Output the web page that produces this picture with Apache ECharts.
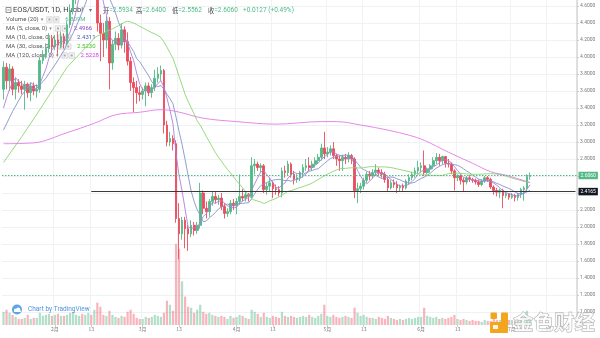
<!DOCTYPE html>
<html>
<head>
<meta charset="utf-8">
<script src="https://cdn.jsdelivr.net/npm/echarts@6/dist/echarts.min.js"></script>
<style>
  html, body { margin: 0; padding: 0; background: #ffffff; }
  #chart { width: 600px; height: 338px; }
</style>
</head>
<body>
<div id="chart"></div>
<script>
// EOS/USDT daily candles, Huobi, 2020-01-15 .. 2020-07-07
// each row: [open, close, low, high]
const candlesJan = [
  [3.62, 3.88, 3.50, 3.95], [3.88, 3.72, 3.62, 3.93], [3.72, 3.86, 3.60, 3.92], [3.86, 3.62, 3.55, 3.89],
  [3.62, 3.70, 3.50, 3.76], [3.70, 3.66, 3.58, 3.74], [3.66, 3.62, 3.56, 3.72], [3.62, 3.68, 3.38, 3.72],
  [3.68, 3.58, 3.52, 3.70], [3.58, 3.66, 3.48, 3.70], [3.66, 3.60, 3.55, 3.70], [3.60, 3.62, 3.52, 3.68],
  [3.62, 3.96, 3.58, 4.00], [3.96, 4.02, 3.92, 4.08], [4.02, 4.10, 3.98, 4.16], [4.10, 4.22, 4.05, 4.28],
  [4.22, 4.12, 4.05, 4.26]
];
const candlesFeb = [
  [4.12, 4.20, 4.08, 4.26], [4.20, 4.14, 4.02, 4.30], [4.14, 4.24, 4.10, 4.30], [4.24, 4.16, 4.10, 4.28],
  [4.16, 4.38, 4.14, 4.42], [4.38, 4.55, 4.34, 4.62], [4.55, 4.70, 4.50, 4.76], [4.70, 4.88, 4.62, 4.95],
  [4.88, 5.05, 4.80, 5.12], [5.05, 4.98, 4.82, 5.15], [4.98, 5.12, 4.90, 5.20], [5.12, 5.25, 5.05, 5.38],
  [5.25, 5.15, 4.95, 5.40], [5.15, 5.20, 5.02, 5.30], [5.20, 4.40, 4.30, 5.25], [4.40, 4.28, 3.95, 4.50],
  [4.28, 4.20, 4.00, 4.40], [4.20, 4.42, 4.10, 4.48], [4.42, 3.93, 3.62, 4.47], [3.93, 4.15, 3.85, 4.20],
  [4.15, 4.22, 4.08, 4.30], [4.22, 4.14, 4.08, 4.28], [4.14, 4.32, 4.10, 4.40], [4.32, 4.18, 4.05, 4.36],
  [4.18, 3.95, 3.90, 4.29], [3.95, 3.70, 3.60, 4.00], [3.70, 3.64, 3.35, 3.76], [3.64, 3.58, 3.45, 3.72],
  [3.58, 3.56, 3.48, 3.66]
];
const candlesMar = [
  [3.56, 3.60, 3.50, 3.64], [3.60, 3.66, 3.42, 3.70], [3.66, 3.58, 3.54, 3.70], [3.58, 3.64, 3.52, 3.68],
  [3.64, 3.75, 3.60, 3.85], [3.75, 3.80, 3.70, 3.88], [3.80, 3.84, 3.72, 3.90], [3.84, 3.20, 3.10, 3.86],
  [3.20, 3.00, 2.95, 3.25], [3.00, 3.04, 2.95, 3.12], [3.04, 2.98, 2.90, 3.08], [2.98, 2.10, 2.05, 3.02],
  [2.10, 1.92, 1.62, 2.28], [1.92, 2.08, 1.85, 2.12], [2.08, 1.98, 1.75, 2.12], [1.98, 1.92, 1.72, 2.02],
  [1.92, 2.02, 1.88, 2.08], [2.02, 1.96, 1.90, 2.06], [1.96, 2.02, 1.92, 2.06], [2.02, 2.40, 1.98, 2.52],
  [2.40, 2.22, 2.15, 2.43], [2.22, 2.18, 2.10, 2.30], [2.18, 2.30, 2.12, 2.33], [2.30, 2.36, 2.25, 2.42],
  [2.36, 2.32, 2.28, 2.42], [2.32, 2.34, 2.26, 2.38], [2.34, 2.24, 2.20, 2.40], [2.24, 2.16, 2.10, 2.28],
  [2.16, 2.18, 2.12, 2.22], [2.18, 2.28, 2.15, 2.32], [2.28, 2.25, 2.20, 2.33]
];
const candlesApr = [
  [2.25, 2.30, 2.15, 2.34], [2.30, 2.36, 2.26, 2.62], [2.36, 2.34, 2.30, 2.45], [2.34, 2.38, 2.30, 2.42],
  [2.38, 2.36, 2.30, 2.40], [2.36, 2.72, 2.34, 2.82], [2.72, 2.74, 2.62, 2.80], [2.74, 2.70, 2.66, 2.77],
  [2.70, 2.72, 2.64, 2.75], [2.72, 2.44, 2.40, 2.74], [2.44, 2.48, 2.38, 2.52], [2.48, 2.52, 2.42, 2.58],
  [2.52, 2.45, 2.34, 2.54], [2.45, 2.44, 2.38, 2.50], [2.44, 2.40, 2.36, 2.48], [2.40, 2.66, 2.35, 2.70],
  [2.66, 2.64, 2.58, 2.72], [2.64, 2.74, 2.60, 2.78], [2.74, 2.62, 2.58, 2.76], [2.62, 2.56, 2.50, 2.66],
  [2.56, 2.58, 2.52, 2.62], [2.58, 2.64, 2.54, 2.66], [2.64, 2.70, 2.58, 2.74], [2.70, 2.72, 2.66, 2.80],
  [2.72, 2.70, 2.66, 2.82], [2.70, 2.74, 2.66, 2.78], [2.74, 2.78, 2.70, 2.82], [2.78, 2.82, 2.74, 2.86],
  [2.82, 2.93, 2.78, 2.98], [2.93, 2.86, 2.80, 3.12]
];
const candlesMay = [
  [2.86, 2.88, 2.82, 2.94], [2.88, 2.92, 2.84, 2.96], [2.92, 2.84, 2.80, 3.00], [2.84, 2.80, 2.72, 2.86],
  [2.80, 2.78, 2.66, 2.84], [2.78, 2.82, 2.66, 2.85], [2.82, 2.80, 2.74, 2.86], [2.80, 2.84, 2.76, 2.88],
  [2.84, 2.80, 2.74, 2.86], [2.80, 2.43, 2.34, 2.82], [2.43, 2.45, 2.28, 2.52], [2.45, 2.48, 2.40, 2.52],
  [2.48, 2.55, 2.44, 2.58], [2.55, 2.62, 2.52, 2.65], [2.62, 2.60, 2.55, 2.66], [2.60, 2.64, 2.57, 2.68],
  [2.64, 2.67, 2.60, 2.74], [2.67, 2.64, 2.60, 2.70], [2.64, 2.62, 2.58, 2.68], [2.62, 2.56, 2.52, 2.65],
  [2.56, 2.46, 2.42, 2.58], [2.46, 2.52, 2.44, 2.55], [2.52, 2.50, 2.46, 2.56], [2.50, 2.46, 2.40, 2.54],
  [2.46, 2.48, 2.42, 2.50], [2.48, 2.46, 2.42, 2.51], [2.46, 2.54, 2.44, 2.56], [2.54, 2.58, 2.50, 2.62],
  [2.58, 2.62, 2.55, 2.65], [2.62, 2.66, 2.58, 2.70], [2.66, 2.70, 2.62, 2.78]
];
const candlesJun = [
  [2.70, 2.72, 2.64, 2.76], [2.72, 2.64, 2.60, 2.90], [2.64, 2.68, 2.62, 2.70], [2.68, 2.72, 2.64, 2.74],
  [2.72, 2.78, 2.68, 2.82], [2.78, 2.82, 2.74, 2.87], [2.82, 2.78, 2.72, 2.86], [2.78, 2.8284, 2.74, 2.84],
  [2.8284, 2.75, 2.70, 2.83], [2.75, 2.74, 2.70, 2.80], [2.74, 2.66, 2.62, 2.76], [2.66, 2.58, 2.43, 2.68],
  [2.58, 2.60, 2.54, 2.62], [2.60, 2.55, 2.50, 2.62], [2.55, 2.53, 2.42, 2.58], [2.53, 2.58, 2.50, 2.60],
  [2.58, 2.56, 2.53, 2.61], [2.56, 2.55, 2.52, 2.58], [2.55, 2.53, 2.50, 2.57], [2.53, 2.50, 2.47, 2.56],
  [2.50, 2.54, 2.48, 2.56], [2.54, 2.58, 2.52, 2.60], [2.58, 2.56, 2.53, 2.60], [2.56, 2.47, 2.45, 2.58],
  [2.47, 2.43, 2.38, 2.49], [2.43, 2.41, 2.36, 2.46], [2.41, 2.43, 2.34, 2.45], [2.43, 2.37, 2.22, 2.45],
  [2.37, 2.39, 2.34, 2.41], [2.39, 2.35, 2.32, 2.40]
];
const candlesJul = [
  [2.35, 2.37, 2.33, 2.40], [2.37, 2.3481, 2.30, 2.39], [2.3481, 2.3835, 2.31, 2.40], [2.3835, 2.44, 2.34, 2.46],
  [2.44, 2.46, 2.31, 2.48], [2.46, 2.5933, 2.42, 2.62], [2.5934, 2.6060, 2.5562, 2.6400]
];

// daily volume, millions
const volumeJan = [13, 15, 12, 10, 8, 6, 6, 7, 10, 6, 7, 7, 12, 9, 10, 11, 9];
const volumeFeb = [10, 11, 9, 9, 10, 12, 13, 10, 9, 11, 10, 12, 10, 15, 22, 18, 10, 9, 14, 10, 8, 7, 9, 8, 13, 15, 11, 7, 6];
const volumeMar = [6, 8, 7, 8, 10, 9, 8, 12, 24, 20, 14, 80, 75, 43, 28, 18, 17, 12, 15, 20, 13, 11, 12, 10, 9, 8, 9, 8, 6, 9, 7];
const volumeApr = [8, 10, 9, 7, 6, 15, 13, 11, 8, 12, 8, 7, 9, 8, 7, 13, 9, 8, 9, 8, 7, 8, 9, 8, 10, 8, 7, 9, 11, 20];
const volumeMay = [9, 8, 10, 8, 7, 8, 9, 8, 7, 17, 12, 9, 10, 8, 7, 7, 6, 8, 7, 6, 9, 7, 6, 5, 6, 5, 6, 7, 6, 7, 8];
const volumeJun = [8, 17, 9, 8, 7, 8, 6, 7, 6, 7, 8, 10, 6, 5, 6, 5, 4, 5, 4, 4, 3, 5, 4, 4, 6, 5, 5, 4, 7, 5];
const volumeJul = [5, 4, 4, 5, 6, 14, 6.809];

// early moving-average values before a full window of closes exists: [dayIndex, value]
const ma5Head = [[0, 3.40], [1, 3.52], [2, 3.62], [3, 3.70]];
const ma10Head = [[0, 3.14], [3, 3.36], [6, 3.55], [8, 3.64]];
const ma30Head = [[0, 2.76], [6, 3.06], [12, 3.38], [21, 3.88]];
// 120-day average: [dayIndex, value]
const ma120Points = [
  [0, 2.98], [10, 2.99], [21, 3.11], [30, 3.22], [37, 3.32], [45, 3.35], [52, 3.38], [57, 3.36],
  [66, 3.28], [77, 3.24], [90, 3.21], [105, 3.24], [110, 3.24], [118, 3.20], [127, 3.14], [134, 3.08],
  [139, 3.02], [147, 2.88], [155, 2.75], [161, 2.65], [166, 2.61], [174, 2.5228]
];

// horizontal ray drawn on the chart
const rayLevel = 2.4165;
const rayStartDate = '2020-02-13';

// price axis ticks
const priceMin = 1.0, priceMax = 4.6, priceStep = 0.2;

const candles = [].concat(candlesJan, candlesFeb, candlesMar, candlesApr, candlesMay, candlesJun, candlesJul);
const volumes = [].concat(volumeJan, volumeFeb, volumeMar, volumeApr, volumeMay, volumeJun, volumeJul);

// date categories: 2020-01-15 through 2020-07-22 (right margin of empty days)
const categories = [];
for (let i = 0; i < 190; i++) {
  categories.push(new Date(Date.UTC(2020, 0, 15) + i * 86400000).toISOString().slice(0, 10));
}

const UP = '#53b987', DOWN = '#eb4d5c';
const FONT = 'Roboto, "Noto Sans CJK SC", "DejaVu Sans", sans-serif';
const CJK = '"Noto Sans CJK SC", Roboto, sans-serif';

function movingAverage(n, head) {
  const out = head.slice();
  for (let i = n - 1; i < candles.length; i++) {
    let s = 0;
    for (let k = i - n + 1; k <= i; k++) s += candles[k][1];
    out.push([i, s / n]);
  }
  return out;
}
const ma5 = movingAverage(5, ma5Head);
const ma10 = movingAverage(10, ma10Head);
const ma30 = movingAverage(30, ma30Head);

const last = candles[candles.length - 1];
const prevClose = candles[candles.length - 2][1];
const change = last[1] - prevClose;

const volumeData = volumes.map((v, i) => ({
  value: v,
  itemStyle: { color: candles[i][1] >= candles[i][0] ? 'rgba(83,185,135,0.45)' : 'rgba(235,77,92,0.42)' }
}));

const isMarkDay = (v) => { const d = +String(v).slice(8, 10); return d === 1 || d === 13; };
const markInterval = (i, v) => isMarkDay(v);

// text measuring for the legend block
const mctx = document.createElement('canvas').getContext('2d');
function tw(str, size, family) { mctx.font = size + 'px ' + family; return mctx.measureText(str).width; }

const graphics = [];
function txt(x, y, text, size, fill, family, extra) {
  graphics.push(Object.assign({
    type: 'text', x: x, y: y, z: 1, silent: true,
    style: { text: text, fontSize: size, fontFamily: family || FONT, fill: fill, align: 'left', verticalAlign: 'middle' }
  }, extra || {}));
}

// title row
graphics.push({ type: 'rect', z: 1, silent: true, shape: { x: 6, y: 7.5, width: 5, height: 5 }, style: { fill: 'none', stroke: '#666', lineWidth: 0.7 } });
graphics.push({ type: 'line', z: 1, silent: true, shape: { x1: 7.3, y1: 10, x2: 9.7, y2: 10 }, style: { stroke: '#666', lineWidth: 0.7 } });
txt(13, 10.5, 'EOS/USDT, 1D, Huobi', 7.5, '#3a3a3a');
txt(89, 10.5, '▾', 6, '#777');
const ohlcItems = [
  [103, '开', '=' + last[0].toFixed(4)],
  [136, '高', '=' + last[3].toFixed(4)],
  [172, '低', '=' + last[2].toFixed(4)],
  [208, '收', '=' + last[1].toFixed(4)]
];
ohlcItems.forEach(([x, lab, val]) => {
  txt(x, 10.5, lab, 6.3, '#444', CJK);
  txt(x + 6.3, 10.5, val, 6.5, UP);
});
txt(243, 10.5, (change >= 0 ? '+' : '') + change.toFixed(4) + ' (' + (change >= 0 ? '+' : '') + (change / prevClose * 100).toFixed(2) + '%)', 6.5, UP);

// indicator legend rows
const legendRows = [
  { label: 'Volume (20)', value: volumes[volumes.length - 1].toFixed(3) + 'M', color: UP },
  { label: 'MA (5, close, 0)', value: ma5[ma5.length - 1][1].toFixed(4), color: '#8e44c0' },
  { label: 'MA (10, close, 0)', value: ma10[ma10.length - 1][1].toFixed(4), color: '#4a5bb0' },
  { label: 'MA (30, close, 0)', value: ma30[ma30.length - 1][1].toFixed(4), color: '#44c427' },
  { label: 'MA (120, close, 0)', value: ma120Points[ma120Points.length - 1][1].toFixed(4), color: '#e03ee8' }
];
legendRows.forEach((r, i) => {
  const y = 19.5 + i * 9;
  const w = tw(r.label, 6, FONT);
  txt(6, y, r.label, 6, '#555');
  const cx = 6 + w + 2;
  txt(cx, y, '▾', 5, '#888');
  const bx = cx + 6;
  [0, 7].forEach((o) => {
    graphics.push({ type: 'rect', z: 1, silent: true, shape: { x: bx + o, y: y - 2.7, width: 5.4, height: 5.4 }, style: { fill: '#f6f6f6', stroke: '#c4c4c4', lineWidth: 0.6 } });
    graphics.push({ type: 'rect', z: 1, silent: true, shape: { x: bx + o + 1.7, y: y - 1, width: 2, height: 2 }, style: { fill: '#aaa' } });
  });
  txt(bx + 18.5, y, r.value, 6, r.color);
});

// "Chart by TradingView" badge
graphics.push({ type: 'circle', z: 50, silent: true, shape: { cx: 17, cy: 309.5, r: 5 }, style: { fill: '#5ba4e6' } });
graphics.push({ type: 'circle', z: 51, silent: true, shape: { cx: 15.6, cy: 310.3, r: 1.7 }, style: { fill: '#fff' } });
graphics.push({ type: 'circle', z: 51, silent: true, shape: { cx: 18.2, cy: 309.6, r: 2.1 }, style: { fill: '#fff' } });
graphics.push({ type: 'rect', z: 51, silent: true, shape: { x: 14, y: 310.4, width: 7, height: 1.6 }, style: { fill: '#fff' } });
txt(28, 309.5, 'Chart by TradingView', 6.5, '#4f93dc', FONT, { z: 50 });

// 金色财经 watermark
[[490, 322, 18, 11], [501, 312.5, 7, 20.5], [490.5, 312.5, 6.5, 6.5]].forEach(([x, y, w, h]) => {
  graphics.push({ type: 'rect', z: 60, silent: true, shape: { x: x, y: y, width: w, height: h, r: 1 }, style: { fill: '#f2a51f' } });
});
graphics.push({ type: 'rect', z: 61, silent: true, shape: { x: 493, y: 325, width: 5, height: 4 }, style: { fill: '#fff6e0' } });
graphics.push({
  type: 'text', z: 60, silent: true, x: 513, y: 322,
  style: { text: '金色财经', fontSize: 20.5, fontFamily: CJK, fontWeight: 'bold', fill: 'rgba(255,255,255,0.75)', stroke: '#a9a9a9', lineWidth: 0.9, align: 'left', verticalAlign: 'middle' }
});

const chart = echarts.init(document.getElementById('chart'), null, { renderer: 'canvas' });
chart.setOption({
  animation: false,
  backgroundColor: '#ffffff',
  grid: [
    { left: 2, right: 23, top: 6, bottom: 26 },
    { left: 2, right: 23, top: 0, bottom: 13 }
  ],
  xAxis: [
    { type: 'category', gridIndex: 0, data: categories, show: false },
    {
      type: 'category', gridIndex: 1, data: categories,
      axisLine: { show: false },
      axisTick: { show: true, alignWithLabel: true, interval: markInterval, length: 2, lineStyle: { color: '#c4c4c4', width: 0.8 } },
      axisLabel: {
        interval: markInterval, fontSize: 5, color: '#7a7a7a', margin: 2, fontFamily: CJK,
        formatter: (v) => { const d = +v.slice(8, 10); return d === 1 ? (+v.slice(5, 7)) + '月' : '13'; }
      },
      splitLine: { show: true, interval: markInterval, lineStyle: { color: '#f0f2f6', width: 1 } }
    }
  ],
  yAxis: [
    {
      type: 'value', gridIndex: 0, position: 'right', min: priceMin, max: priceMax, interval: priceStep,
      axisLine: { show: false },
      axisTick: { show: true, length: 2, lineStyle: { color: '#c4c4c4', width: 0.8 } },
      axisLabel: { fontSize: 5, color: '#7a7a7a', margin: 3, fontFamily: FONT, formatter: (v) => v.toFixed(4) },
      splitLine: { show: true, lineStyle: { color: '#eef1f6', width: 1 } }
    },
    {
      type: 'value', gridIndex: 1, position: 'right', min: 0, max: 320,
      axisLine: { show: true, lineStyle: { color: '#d6d6d6', width: 1.5 } },
      axisTick: { show: false }, axisLabel: { show: false }, splitLine: { show: false }
    }
  ],
  series: [
    {
      type: 'bar', name: 'Volume', xAxisIndex: 1, yAxisIndex: 1, data: volumeData,
      barWidth: 2.2, z: 1, silent: true
    },
    {
      type: 'candlestick', name: 'EOS/USDT', xAxisIndex: 0, yAxisIndex: 0, data: candles,
      barWidth: 2.2, clip: false, z: 3,
      itemStyle: { color: UP, color0: DOWN, borderColor: UP, borderColor0: DOWN, borderWidth: 0.9 },
      markLine: {
        silent: true, symbol: ['none', 'none'], precision: 4,
        data: [
          {
            yAxis: last[1],
            lineStyle: { color: UP, type: [1.5, 1.5], width: 1 },
            label: { show: true, position: 'end', distance: 1.5, formatter: (p) => (+p.value).toFixed(4), color: '#fff', backgroundColor: UP, fontSize: 5, fontFamily: FONT, padding: [1.5, 2, 1, 2] }
          },
          [
            {
              coord: [categories.indexOf(rayStartDate), rayLevel],
              lineStyle: { color: '#3a3a3a', type: 'solid', width: 1.2 },
              label: { show: true, position: 'end', distance: 3, formatter: () => rayLevel.toFixed(4), color: '#fff', backgroundColor: '#131722', fontSize: 5, fontFamily: FONT, padding: [1.5, 2, 1, 2] }
            },
            { coord: [categories.length - 1, rayLevel] }
          ]
        ]
      }
    },
    { type: 'line', name: 'MA5', xAxisIndex: 0, yAxisIndex: 0, data: ma5, showSymbol: false, symbol: 'none', clip: false, z: 4, lineStyle: { color: '#ab7fdc', width: 0.9 } },
    { type: 'line', name: 'MA10', xAxisIndex: 0, yAxisIndex: 0, data: ma10, showSymbol: false, symbol: 'none', clip: false, z: 4, lineStyle: { color: '#8494c8', width: 0.9 } },
    { type: 'line', name: 'MA30', xAxisIndex: 0, yAxisIndex: 0, data: ma30, showSymbol: false, symbol: 'none', clip: false, z: 4, lineStyle: { color: '#8ad66e', width: 0.9 } },
    { type: 'line', name: 'MA120', xAxisIndex: 0, yAxisIndex: 0, data: ma120Points, smooth: 0.35, showSymbol: false, symbol: 'none', clip: false, z: 4, lineStyle: { color: '#e47be4', width: 0.9 } }
  ],
  graphic: { elements: graphics }
});
</script>
</body>
</html>
